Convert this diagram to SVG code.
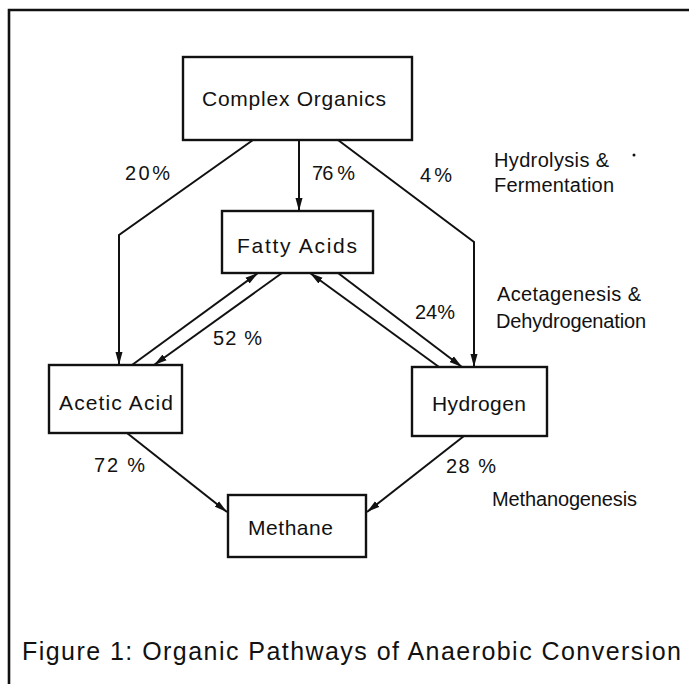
<svg xmlns="http://www.w3.org/2000/svg" width="689" height="684" viewBox="0 0 689 684">
<defs>
<style>
.box{fill:#fff;stroke:#111;stroke-width:2.4}
.ln{fill:none;stroke:#111;stroke-width:2}
.t{font-family:"Liberation Sans",Arial,sans-serif;font-size:21px;fill:#111}
.s{font-family:"Liberation Sans",Arial,sans-serif;font-size:20px;fill:#111}
.cap{font-family:"Liberation Sans",Arial,sans-serif;font-size:25px;fill:#111}
</style>
<marker id="ah" viewBox="0 0 13 8" refX="13" refY="4" markerWidth="13" markerHeight="8" markerUnits="userSpaceOnUse" orient="auto">
<path d="M0,0.5 L13,4 L0,7.5 z" fill="#111"/>
</marker>
</defs>
<rect width="689" height="684" fill="#fff"/>
<path d="M9,684 V10 H689" fill="none" stroke="#111" stroke-width="2.6"/>

<g id="connectors">
<line class="ln" x1="299" y1="140" x2="299" y2="211" marker-end="url(#ah)"/>
<path class="ln" d="M253,140 L119,235 L119,365" marker-end="url(#ah)"/>
<path class="ln" d="M338,140 L474,242 L474,367" marker-end="url(#ah)"/>
<line class="ln" x1="132" y1="365" x2="258" y2="273" marker-end="url(#ah)"/>
<line class="ln" x1="282" y1="273" x2="154" y2="365" marker-end="url(#ah)"/>
<line class="ln" x1="439" y1="367" x2="310" y2="273" marker-end="url(#ah)"/>
<line class="ln" x1="338" y1="273" x2="462" y2="367" marker-end="url(#ah)"/>
<line class="ln" x1="127" y1="433" x2="227" y2="512" marker-end="url(#ah)"/>
<line class="ln" x1="464" y1="436" x2="367" y2="512" marker-end="url(#ah)"/>
</g>

<g id="complex-organics">
<rect class="box" x="183" y="57" width="229" height="83"/>
<text class="t" x="202" y="106" textLength="184" lengthAdjust="spacing">Complex Organics</text>
</g>
<g id="fatty-acids">
<rect class="box" x="222" y="211" width="151" height="62"/>
<text class="t" x="237" y="253" textLength="120" lengthAdjust="spacing">Fatty Acids</text>
</g>
<g id="acetic-acid">
<rect class="box" x="49" y="365" width="133" height="68"/>
<text class="t" x="59" y="410" textLength="114" lengthAdjust="spacing">Acetic Acid</text>
</g>
<g id="hydrogen">
<rect class="box" x="412" y="367" width="135" height="69"/>
<text class="t" x="432" y="411" textLength="94" lengthAdjust="spacing">Hydrogen</text>
</g>
<g id="methane">
<rect class="box" x="228" y="495" width="138" height="62"/>
<text class="t" x="248" y="535" textLength="85" lengthAdjust="spacing">Methane</text>
</g>

<g id="labels">
<text class="s" x="125" y="180" textLength="45" lengthAdjust="spacing">20%</text>
<text class="s" x="312" y="180" textLength="43" lengthAdjust="spacing">76 %</text>
<text class="s" x="420" y="182" textLength="32" lengthAdjust="spacing">4%</text>
<text class="s" x="213" y="345" textLength="49" lengthAdjust="spacing">52 %</text>
<text class="s" x="415" y="319" textLength="40" lengthAdjust="spacing">24%</text>
<text class="s" x="94" y="472" textLength="51" lengthAdjust="spacing">72 %</text>
<text class="s" x="446" y="473" textLength="50" lengthAdjust="spacing">28 %</text>
<text class="s" x="494" y="167" textLength="115" lengthAdjust="spacing">Hydrolysis &amp;</text>
<text class="s" x="494" y="192" textLength="120" lengthAdjust="spacing">Fermentation</text>
<circle cx="634" cy="155" r="1.5" fill="#111"/>
<text class="s" x="497" y="301" textLength="144" lengthAdjust="spacing">Acetagenesis &amp;</text>
<text class="s" x="496" y="328" textLength="150" lengthAdjust="spacing">Dehydrogenation</text>
<text class="s" x="492" y="506" textLength="145" lengthAdjust="spacing">Methanogenesis</text>
</g>

<text class="cap" x="22" y="660" textLength="659" lengthAdjust="spacing">Figure 1: Organic Pathways of Anaerobic Conversion</text>
</svg>
